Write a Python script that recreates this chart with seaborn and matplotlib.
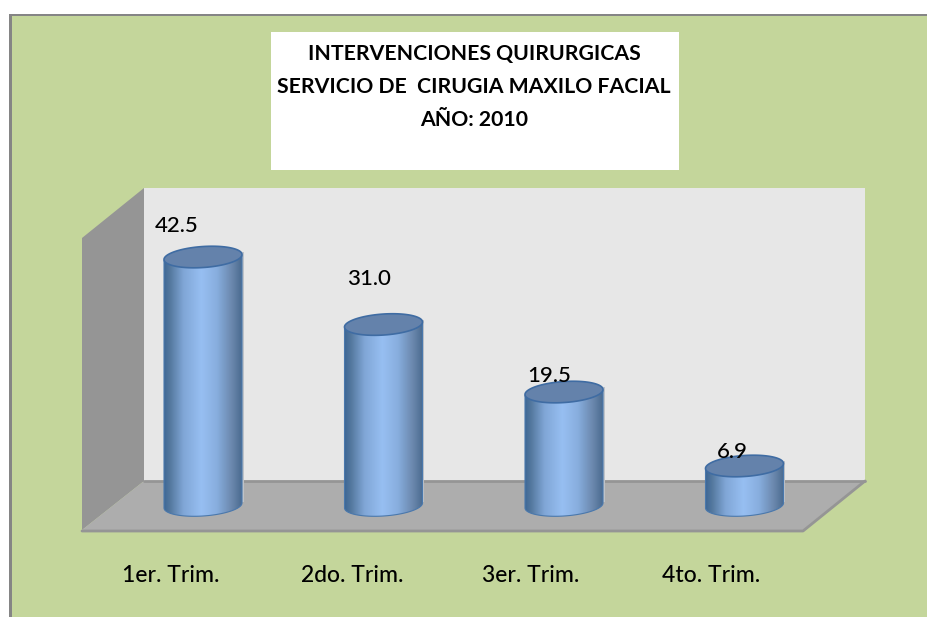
import numpy as np
import pandas as pd
import matplotlib
matplotlib.use('Agg')
import matplotlib.pyplot as plt
from matplotlib.colors import LinearSegmentedColormap
from matplotlib.patches import Polygon, Rectangle
import seaborn as sns

# chart data
trimestres = ['1er. Trim.', '2do. Trim.', '3er. Trim.', '4to. Trim.']
intervenciones = [42.5, 31.0, 19.5, 6.9]
etiquetas = ['42.5', '31.0', '19.5', '6.9']
titulo = ['INTERVENCIONES QUIRURGICAS', 'SERVICIO DE  CIRUGIA MAXILO FACIAL', 'AÑO: 2010']

W, H = 927, 617
sns.set_theme(style='white')
plt.rcParams['font.family'] = ['Lato', 'DejaVu Sans']

fig = plt.figure(figsize=(W / 100, H / 100), dpi=100, facecolor='white')

# background layer in pixel coordinates: panel, walls, floor, title box
bg = fig.add_axes([0, 0, 1, 1])
bg.set_xlim(0, W)
bg.set_ylim(H, 0)
bg.axis('off')
bg.add_patch(Rectangle((9, 14), W - 9, H - 14, fc='#858585', ec='none'))
bg.add_patch(Rectangle((12, 16), W - 12, H - 16, fc='#C4D69B', ec='none'))
bg.add_patch(Polygon([(144, 188), (865, 188), (865, 481), (144, 481)], fc='#E7E7E7', ec='none'))
bg.add_patch(Polygon([(82, 238), (144, 188), (144, 481), (82, 530)], fc='#959595', ec='none'))
bg.add_patch(Polygon([(82, 530), (144, 481), (865, 481), (803, 530)], fc='#ADADAD', ec='none'))
bg.plot([144, 865], [481, 481], color='#959595', lw=2)
bg.plot([82, 803, 865], [531, 531, 481], color='#959595', lw=2)
bg.add_patch(Rectangle((271, 32), 408, 138, fc='white', ec='none'))
for linea, y in zip(titulo, [54, 87, 120]):
    bg.text(474, y, linea, ha='center', va='center', fontsize=15.35, fontweight='bold', color='black')

# data axes, y = 0 sits at pixel 507.5 and one unit is 5.87 px
ESC = 5.87
Y0 = 507.5
PASO = 180.5
x_ini = 203 - PASO / 2
y_tope = 50
ax = fig.add_axes([x_ini / W, 1 - (Y0 + 30) / H, 4 * PASO / W, (y_tope * ESC + 30) / H])
ax.patch.set_alpha(0)
df = pd.DataFrame({'trimestre': trimestres, 'valor': intervenciones})
sns.barplot(data=df, x='trimestre', y='valor', ax=ax, width=78 / PASO, color='#8DB3E2', saturation=1)
ax.set_xlim(-0.5, 3.5)
ax.set_ylim(-30 / ESC, y_tope)
ax.axis('off')

cmap = LinearSegmentedColormap.from_list('cil', [
    (0.0, '#3F6896'), (0.08, '#55799F'), (0.25, '#80A6D6'), (0.48, '#97BFF2'),
    (0.68, '#88AEDE'), (0.88, '#6986AB'), (1.0, '#4A6A90')])
grad = np.linspace(0, 1, 256).reshape(1, -1)
b = 10.5 / ESC     # half height of the ellipse
incl = 2.5 / ESC   # tilt of the ellipse
t = np.linspace(0, 2 * np.pi, 181)

# label offsets from the top of each bar, px
dx_etq = [-26, -14.5, -15, -12.5]
dy_etq = [32, 47, 17, 15]

for barra, valor, etiqueta, dx, dy in zip(ax.patches, intervenciones, etiquetas, dx_etq, dy_etq):
    x0 = barra.get_x()
    ancho = barra.get_width()
    cx = x0 + ancho / 2
    a = ancho / 2
    barra.set_visible(False)
    ex = cx + a * np.cos(t)
    # lower half of the base ellipse, right to left
    inferior = np.column_stack([ex, 2 / ESC - b * np.sin(t) + incl * np.cos(t)])[:91]
    cuerpo = np.vstack([[[x0 + ancho, valor + incl]], inferior, [[x0, valor - incl]]])
    # thin shadow to the right of the cylinder
    ax.add_patch(Rectangle((x0 + ancho, 1), 1.5 / PASO, valor, fc='#BFC3C8', ec='none', zorder=2))
    img = ax.imshow(grad, cmap=cmap, aspect='auto', zorder=3,
                    extent=[x0, x0 + ancho, -30 / ESC, valor + 2])
    clip = Polygon(cuerpo, transform=ax.transData, fc='none', ec='#4A78AC', lw=0.8, zorder=4)
    ax.add_patch(clip)
    img.set_clip_path(clip)
    tapa = np.column_stack([ex, valor + 1 / ESC + b * np.sin(t) + incl * np.cos(t)])
    ax.add_patch(Polygon(tapa, fc='#6482AB', ec='#3F6CA3', lw=1.2, zorder=5))
    ax.text(cx + dx / PASO, valor + dy / ESC, etiqueta, ha='center', va='center',
            fontsize=16, fontweight='medium', color='black', zorder=6)

# category labels under each bar
dx_cat = [-32, -31.5, -33, -33.5]
for i, (nombre, dx) in enumerate(zip(trimestres, dx_cat)):
    ax.text(i + dx / PASO, (Y0 - 576) / ESC, nombre, ha='center', va='center', fontsize=16.5,
            fontweight='medium', color='black', clip_on=False, zorder=6)

ax.set_xlim(-0.5, 3.5)
ax.set_ylim(-30 / ESC, y_tope)
fig.savefig('out.png', dpi=100, facecolor='white')
